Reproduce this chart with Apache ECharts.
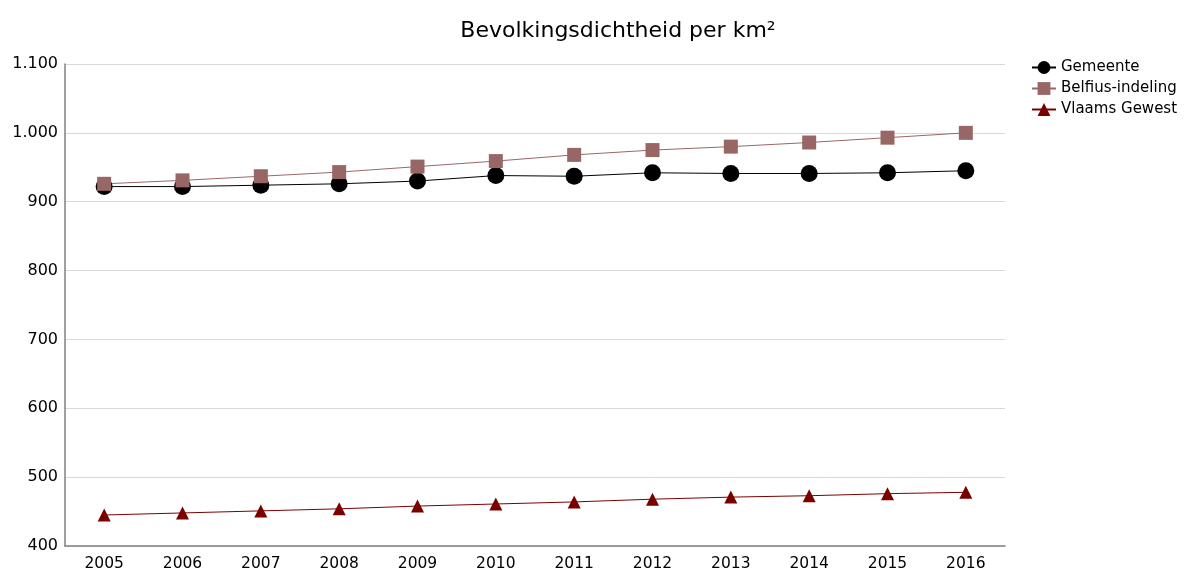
<!DOCTYPE html>
<html><head><meta charset="utf-8">
<script src="https://cdn.jsdelivr.net/npm/echarts@6/dist/echarts.min.js"></script>
<style>html,body{margin:0;padding:0;background:#fff}#c{width:1186px;height:574px}</style>
</head><body><div id="c"></div>
<script>
const years = ['2005','2006','2007','2008','2009','2010','2011','2012','2013','2014','2015','2016'];
const gemeente = [922, 922, 924, 926, 930, 938, 937, 942, 941, 941, 942, 945];
const belfius = [926, 931, 937, 943, 951, 959, 968, 975, 980, 986, 993, 1000];
const vlaams = [445, 448, 451, 454, 458, 461, 464, 468, 471, 473, 476, 478];
const seriesNames = ['Gemeente', 'Belfius-indeling', 'Vlaams Gewest'];
const FONT = 'DejaVu Sans';
const fmt = v => String(v).replace(/\B(?=(\d{3})+(?!\d))/g, '.');
const chart = echarts.init(document.getElementById('c'));
chart.setOption({
  animation: false,
  textStyle: {fontFamily: FONT},
  title: {text: 'Bevolkingsdichtheid per km²', left: 613, textAlign: 'center', top: 15,
    textStyle: {fontFamily: FONT, fontSize: 22, fontWeight: 'normal', color: '#000'}},
  legend: {orient: 'vertical', left: 1026, top: 55, itemGap: 6, itemWidth: 24, itemHeight: 16,
    textStyle: {fontFamily: FONT, fontSize: 15, color: '#000'},
    data: seriesNames},
  grid: {left: 65, right: 181, top: 64, bottom: 28, containLabel: false},
  xAxis: {type: 'category', data: years, boundaryGap: true,
    axisLine: {lineStyle: {color: '#808080', width: 1.5}}, axisTick: {show: false},
    axisLabel: {fontFamily: FONT, fontSize: 15.5, color: '#000', margin: 10}},
  yAxis: {type: 'value', min: 400, max: 1100, interval: 100,
    axisLine: {show: true, lineStyle: {color: '#808080', width: 1.5}}, axisTick: {show: false},
    splitLine: {lineStyle: {color: '#d9d9d9'}},
    axisLabel: {fontFamily: FONT, fontSize: 16, color: '#000', margin: 7, formatter: fmt}},
  series: [
    {name: seriesNames[0], type: 'line', data: gemeente, symbol: 'circle', symbolSize: 17,
      itemStyle: {color: '#000'}, lineStyle: {color: '#000', width: 1}},
    {name: seriesNames[1], type: 'line', data: belfius, symbol: 'rect', symbolSize: 14,
      itemStyle: {color: '#996666'}, lineStyle: {color: '#996666', width: 1}},
    {name: seriesNames[2], type: 'line', data: vlaams, symbol: 'triangle', symbolSize: 13,
      itemStyle: {color: '#7a0000'}, lineStyle: {color: '#7a0000', width: 1}}
  ]
});
</script></body></html>
